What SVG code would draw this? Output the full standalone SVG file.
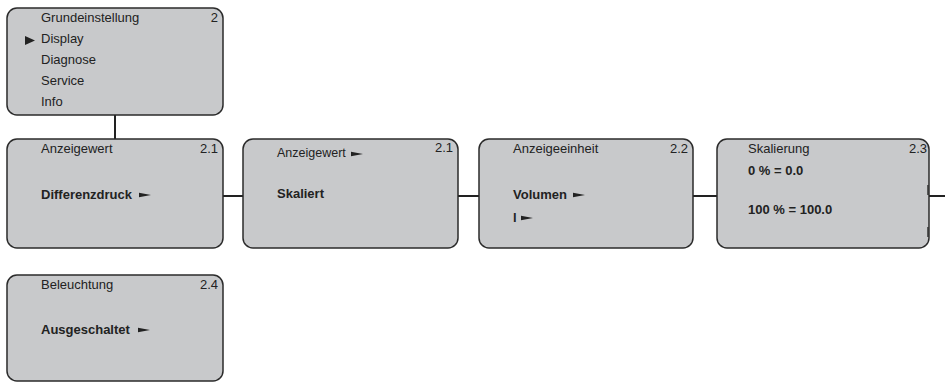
<svg xmlns="http://www.w3.org/2000/svg" width="945" height="382" viewBox="0 0 945 382">
<style>
.box{fill:#c8c9cb;stroke:#2b2b2b;stroke-width:1.5}
.t{font-family:"Liberation Sans",Arial,sans-serif;font-size:13px;fill:#222}
.b{font-weight:bold}
.r{text-anchor:end}
.c{stroke:#222;stroke-width:2;fill:none}
.bar{stroke:#333;stroke-width:1.5}
</style>
<defs>
<polygon id="arr" points="0,-2.3 12,0 0,2.3" fill="#222"/>
</defs>
<rect width="945" height="382" fill="#fff"/>
<g id="connectors">
<line class="c" x1="115" y1="115" x2="115" y2="139"/>
<line class="c" x1="223" y1="196" x2="243" y2="196"/>
<line class="c" x1="458" y1="196" x2="479" y2="196"/>
<line class="c" x1="693" y1="196" x2="717" y2="196"/>
<line class="c" x1="929" y1="196" x2="945" y2="196"/>
</g>
<g id="node-menu">
<rect class="box" x="7" y="8" width="216" height="107" rx="10"/>
<text class="t" x="41" y="22">Grundeinstellung</text>
<text class="t r" x="218" y="22">2</text>
<polygon points="25,36 35,40.5 25,45" fill="#222"/>
<text class="t" x="41" y="43">Display</text>
<text class="t" x="41" y="64">Diagnose</text>
<text class="t" x="41" y="85">Service</text>
<text class="t" x="41" y="106">Info</text>
</g>
<g id="node-2-1a">
<rect class="box" x="7" y="139" width="216" height="109" rx="10"/>
<text class="t" x="41" y="153">Anzeigewert</text>
<text class="t r" x="218" y="153">2.1</text>
<text class="t b" x="41" y="199">Differenzdruck</text>
<use href="#arr" x="139" y="195"/>
</g>
<g id="node-2-1b">
<rect class="box" x="243" y="139" width="215" height="109" rx="10"/>
<text class="t" x="277" y="157" style="font-size:12.5px">Anzeigewert</text>
<use href="#arr" x="351" y="154"/>
<text class="t r" x="453" y="152">2.1</text>
<text class="t b" x="277" y="198">Skaliert</text>
</g>
<g id="node-2-2">
<rect class="box" x="479" y="139" width="214" height="109" rx="10"/>
<text class="t" x="513" y="153">Anzeigeeinheit</text>
<text class="t r" x="688" y="153">2.2</text>
<text class="t b" x="513" y="199">Volumen</text>
<use href="#arr" x="573" y="195"/>
<text class="t b" x="513" y="222">l</text>
<use href="#arr" x="521" y="218"/>
</g>
<g id="node-2-3">
<rect class="box" x="717" y="139" width="212" height="109" rx="10"/>
<text class="t" x="748" y="153">Skalierung</text>
<text class="t r" x="927" y="153">2.3</text>
<text class="t b" x="748" y="175">0 % = 0.0</text>
<text class="t b" x="748" y="214">100 % = 100.0</text>
<line class="bar" x1="928" y1="185" x2="928" y2="195"/>
<line class="bar" x1="928" y1="227" x2="928" y2="237"/>
</g>
<g id="node-2-4">
<rect class="box" x="7" y="275" width="216" height="106" rx="10"/>
<text class="t" x="41" y="289">Beleuchtung</text>
<text class="t r" x="218" y="289">2.4</text>
<text class="t b" x="41" y="334">Ausgeschaltet</text>
<use href="#arr" x="138" y="330"/>
</g>
</svg>
